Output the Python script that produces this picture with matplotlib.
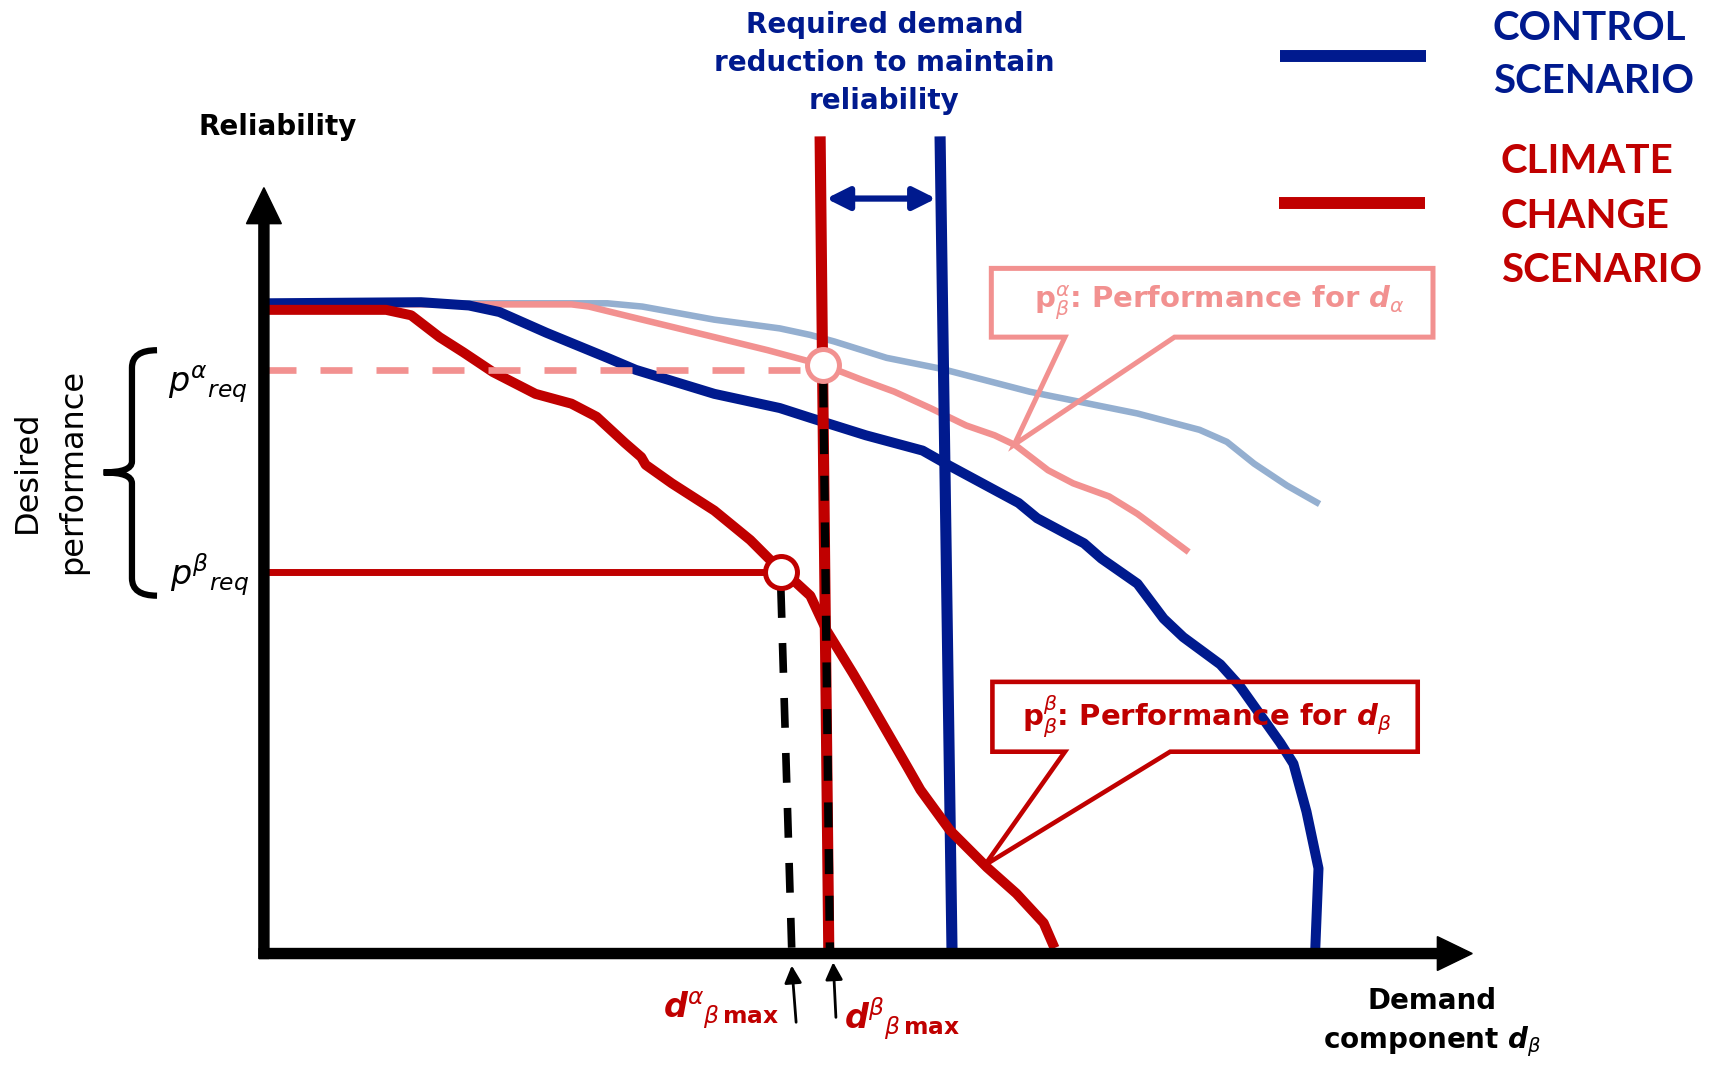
import numpy as np
import matplotlib.pyplot as plt
from matplotlib.patches import Polygon, PathPatch
from matplotlib.path import Path

plt.rcParams['mathtext.fontset'] = 'dejavusans'
plt.rcParams['font.family'] = 'DejaVu Sans'

DARK_BLUE = '#001A8E'
RED = '#C00000'
PINK = '#F29190'
LIGHT_BLUE = '#94AFD0'

# Reliability curves: demand (d) vs reliability (r)
control_beta_d = [0.2, 14.4, 18.8, 21.6, 25.9, 31.5, 34.1, 41.3, 47.3, 50.1, 55.2, 60.4,
                  62.7, 69.2, 70.9, 75.2, 76.8, 80.1, 82.5, 84.3, 87.7, 89.5, 93.2, 94.4,
                  95.6, 96.7, 96.4]
control_beta_r = [59.6, 59.7, 59.4, 58.8, 56.9, 54.6, 53.5, 51.3, 50.0, 49.1, 47.5, 46.1,
                  44.8, 41.3, 39.9, 37.6, 36.2, 33.9, 30.7, 29.0, 26.5, 24.5, 19.3, 17.4,
                  13.0, 7.8, 0.3]

control_alpha_d = [0.2, 31.5, 34.7, 41.3, 47.3, 50.1, 52.3, 57.1, 62.1, 70.2, 80.1, 85.8,
                   88.3, 90.8, 93.8, 96.8]
control_alpha_r = [59.6, 59.6, 59.3, 58.1, 57.3, 56.7, 56.1, 54.6, 53.6, 51.5, 49.5, 48.0,
                   46.9, 44.9, 42.9, 41.2]

climate_alpha_d = [0.2, 28.2, 29.8, 34.7, 41.3, 46.2, 51.4, 53.0, 54.8, 57.8, 61.1, 64.4,
                   67.0, 68.9, 71.9, 74.2, 77.5, 80.1, 84.8]
climate_alpha_r = [59.5, 59.5, 59.3, 58.1, 56.5, 55.3, 53.9, 53.3, 52.6, 51.5, 50.0, 48.4,
                   47.5, 46.6, 44.3, 43.1, 41.9, 40.3, 36.8]

climate_beta_d = [0.2, 11.2, 13.5, 16.1, 18.3, 21.0, 24.9, 28.2, 30.5, 33.1, 34.6, 35.0,
                  37.4, 41.3, 44.6, 46.5, 47.4, 48.9, 50.1, 51.6, 54.0, 55.3, 59.0, 60.2,
                  62.9, 66.3, 69.0, 71.5, 72.5]
climate_beta_r = [59.0, 59.0, 58.5, 56.5, 55.1, 53.3, 51.3, 50.4, 49.2, 46.8, 45.5, 44.8,
                  43.1, 40.6, 37.9, 36.0, 35.3, 33.9, 32.8, 29.6, 25.7, 23.5, 17.1, 15.0,
                  11.3, 7.9, 5.5, 2.8, 0.5]

# required performance levels and maximum demands
p_req_alpha = 53.5
p_req_beta = 35.0
d_alpha_max = [47.4, 48.4]      # top, at axis
d_beta_max_climate = [51.0, 51.8]
d_beta_max_control = [62.0, 63.1]
limit_r = [74.9, 0.0]

fig = plt.figure(figsize=(17.1, 10.67), dpi=100)
ax = fig.add_axes([0, 0, 1, 1])
ax.set_xlim(-24.2, 132.6)
ax.set_ylim(-10.4, 87.4)
ax.axis('off')

# axes arrows
ax.arrow(0, -0.45, 0, 70.65, width=0.92, head_width=3.2, head_length=3.3,
         length_includes_head=True, color='black', zorder=10)
ax.arrow(-0.45, 0, 111.25, 0, width=0.92, head_width=3.1, head_length=3.2,
         length_includes_head=True, color='black', zorder=10)

# curves
ax.plot(control_alpha_d, control_alpha_r, color=LIGHT_BLUE, lw=4.7,
        solid_capstyle='butt', solid_joinstyle='round', zorder=2)
ax.plot(climate_alpha_d, climate_alpha_r, color=PINK, lw=4.7,
        solid_capstyle='butt', solid_joinstyle='round', zorder=2.5)
ax.plot(control_beta_d, control_beta_r, color=DARK_BLUE, lw=7.2,
        solid_capstyle='butt', solid_joinstyle='round', zorder=3)

# vertical limits
ax.plot(d_beta_max_control, limit_r, color=DARK_BLUE, lw=8, solid_capstyle='butt', zorder=4)
ax.plot(d_beta_max_climate, limit_r, color=RED, lw=8, solid_capstyle='butt', zorder=4)

ax.plot(climate_beta_d, climate_beta_r, color=RED, lw=7.2,
        solid_capstyle='butt', solid_joinstyle='round', zorder=5)

# required performance lines
circ_a_d = np.interp(p_req_alpha, limit_r[::-1], d_beta_max_climate[::-1])
circ_a_r = np.interp(circ_a_d, climate_alpha_d, climate_alpha_r)
ax.plot([0, circ_a_d - 1.5], [p_req_alpha, p_req_alpha], color=PINK, lw=4.8,
        dashes=(4.8, 3.6), solid_capstyle='butt', zorder=5)
ax.plot([0.3, d_alpha_max[0]], [p_req_beta, p_req_beta], color=RED, lw=5,
        solid_capstyle='butt', zorder=5)

# dashed drops to the demand axis
ax.plot(d_alpha_max, [p_req_beta - 1.5, 0.3], color='black', lw=5.5, dashes=(3.9, 3.3), zorder=6)
bx = np.interp(circ_a_r - 1.6, limit_r[::-1], d_beta_max_climate[::-1])
ax.plot([bx + 0.05, d_beta_max_climate[1] + 0.1], [circ_a_r - 1.6, 0.3], color='black', lw=6,
        dashes=(3.0, 2.6), zorder=6)

# circles
ax.plot([circ_a_d], [circ_a_r], 'o', ms=23, mfc='white', mec=PINK, mew=3.6, zorder=7)
ax.plot([d_alpha_max[0]], [p_req_beta], 'o', ms=23, mfc='white', mec=RED, mew=3.6, zorder=7)

# double arrow between limits
ya = 69.2
xl = np.interp(ya, limit_r[::-1], d_beta_max_climate[::-1]) + 0.5
xr = np.interp(ya, limit_r[::-1], d_beta_max_control[::-1]) - 0.45
ax.annotate('', xy=(xr, ya), xytext=(xl, ya),
            arrowprops=dict(arrowstyle='<|-|>', lw=4.5, color=DARK_BLUE,
                            mutation_scale=34, shrinkA=0, shrinkB=0), zorder=6)

# small arrows to the max demands
ax.annotate('', xy=(d_alpha_max[1], -1.1), xytext=(d_alpha_max[1] + 0.4, -6.3),
            arrowprops=dict(arrowstyle='-|>', lw=2, color='black',
                            mutation_scale=26, shrinkA=0, shrinkB=0))
ax.annotate('', xy=(d_beta_max_climate[1] + 0.4, -0.8), xytext=(d_beta_max_climate[1] + 0.65, -5.85),
            arrowprops=dict(arrowstyle='-|>', lw=2, color='black',
                            mutation_scale=26, shrinkA=0, shrinkB=0))

# callout boxes
def callout(left, right, bottom, top, b1, b2, tip, color, lw):
    pts = [(left, top), (right, top), (right, bottom), (b2, bottom), tip,
           (b1, bottom), (left, bottom)]
    ax.add_patch(Polygon(pts, closed=True, fill=False, edgecolor=color, lw=lw,
                         joinstyle='miter', zorder=8))

tip_a_d = 68.8
callout(66.7, 107.2, 56.5, 62.8, 73.45, 83.5,
        (tip_a_d, np.interp(tip_a_d, climate_alpha_d, climate_alpha_r)), PINK, 3.6)
tip_b_d = 66.1
callout(66.8, 105.8, 18.5, 24.9, 73.45, 83.1,
        (tip_b_d, np.interp(tip_b_d, climate_beta_d, climate_beta_r)), RED, 3.3)

ax.text(87.6, 59.6, r'$\mathbf{p}^{\alpha}_{\beta}$: Performance for $\mathbfit{d}_{\alpha}$',
        color=PINK, fontsize=21, fontweight='bold', ha='center', va='center', zorder=9)
ax.text(86.5, 21.7, r'$\mathbf{p}^{\beta}_{\beta}$: Performance for $\mathbfit{d}_{\beta}$',
        color=RED, fontsize=21, fontweight='bold', ha='center', va='center', zorder=9)

# brace for desired performance
top, bot, mid = 55.3, 32.8, 44.1
xs, xv, xt = -9.8, -12.1, -14.7
verts = [(xs, top), (xv, top), (xv, top - 1.6),
         (xv, mid + 1.0), (xv, mid), (xt, mid),
         (xv, mid), (xv, mid - 1.0),
         (xv, bot + 1.6), (xv, bot), (xs, bot)]
codes = [Path.MOVETO, Path.CURVE3, Path.CURVE3,
         Path.LINETO, Path.CURVE3, Path.CURVE3,
         Path.CURVE3, Path.CURVE3,
         Path.LINETO, Path.CURVE3, Path.CURVE3]
ax.add_patch(PathPatch(Path(verts, codes), fill=False, lw=4.5, edgecolor='black',
                       capstyle='butt', zorder=5))

ax.text(-19.6, 44.2, 'Desired\nperformance', rotation=90, fontsize=23,
        ha='center', va='center', multialignment='center', linespacing=1.6)
ax.text(-8.8, 52.2, r'$p^{\alpha}{}_{req}$', fontsize=24, ha='left', va='center')
ax.text(-8.6, 34.7, r'$p^{\beta}{}_{req}$', fontsize=24, ha='left', va='center')

# titles and axis labels
ax.text(1.3, 75.8, 'Reliability', fontsize=20, fontweight='bold', ha='center', va='center')
ax.text(56.9, 81.65, 'Required demand\nreduction to maintain\nreliability', fontsize=20,
        fontweight='bold', color=DARK_BLUE, ha='center', va='center', multialignment='center',
        linespacing=1.45)
ax.text(107.1, -6.4, 'Demand\ncomponent $\\mathbfit{d}_{\\beta}$', fontsize=20,
        fontweight='bold', ha='center', va='center', multialignment='center', linespacing=1.4)
ax.text(41.9, -5.2, r'$\mathbfit{d}^{\alpha}{}_{\beta\,\mathbf{max}}$', fontsize=24,
        color=RED, ha='center', va='center')
ax.text(58.5, -6.0, r'$\mathbfit{d}^{\beta}{}_{\beta\,\mathbf{max}}$', fontsize=24,
        color=RED, ha='center', va='center')

# legend
ax.plot([93.2, 106.6], [82.3, 82.3], color=DARK_BLUE, lw=8.6, solid_capstyle='butt')
ax.plot([93.1, 106.5], [68.8, 68.8], color=RED, lw=8.6, solid_capstyle='butt')
ax.text(112.7, 82.35, 'CONTROL\nSCENARIO', family='Lato', fontweight='bold', fontsize=29,
        color=DARK_BLUE, ha='left', va='center', linespacing=1.55)
ax.text(113.4, 67.6, 'CLIMATE\nCHANGE\nSCENARIO', family='Lato', fontweight='bold', fontsize=29,
        color=RED, ha='left', va='center', linespacing=1.57)

fig.savefig('out.png', dpi=100)
